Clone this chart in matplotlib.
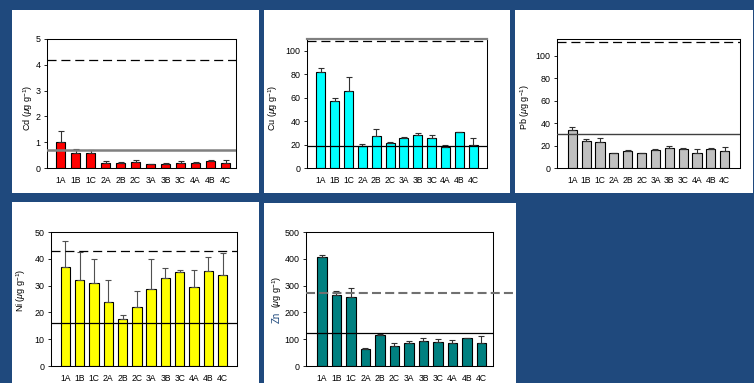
import matplotlib
matplotlib.use('Agg')
import matplotlib.pyplot as plt
from matplotlib.patches import Rectangle

plt.rcParams['font.family'] = ['Liberation Sans', 'DejaVu Sans']
plt.rcParams['mathtext.fontset'] = 'custom'
plt.rcParams['mathtext.rm'] = 'Liberation Sans'
plt.rcParams['mathtext.it'] = 'Liberation Sans:italic'
plt.rcParams['lines.scale_dashes'] = False

sites = ['1A', '1B', '1C', '2A', '2B', '2C', '3A', '3B', '3C', '4A', '4B', '4C']

# mean concentration and mean + SD (upper end of the error bar), µg g-1
cd_mean = [1.02, 0.58, 0.57, 0.18, 0.20, 0.22, 0.14, 0.17, 0.20, 0.19, 0.28, 0.20]
cd_upper = [1.45, 0.75, 0.70, 0.27, 0.23, 0.32, 0.16, 0.19, 0.29, 0.22, 0.31, 0.30]

cu_mean = [81.5, 57.5, 65.5, 19.0, 27.5, 21.0, 25.5, 28.5, 26.0, 18.0, 30.5, 20.0]
cu_upper = [85.5, 59.5, 77.5, 20.5, 33.5, 22.5, 26.5, 30.0, 28.0, 19.5, 31.0, 26.0]

pb_mean = [34.0, 24.5, 23.5, 13.0, 15.5, 13.0, 16.0, 18.0, 17.0, 13.5, 17.0, 15.0]
pb_upper = [36.5, 26.0, 27.0, 13.5, 16.0, 13.5, 16.5, 20.0, 17.5, 16.5, 17.5, 18.5]

ni_mean = [37.0, 32.0, 31.0, 24.0, 17.5, 22.0, 28.8, 32.7, 35.0, 29.3, 35.3, 34.0]
ni_upper = [46.5, 42.5, 40.0, 32.0, 19.0, 28.0, 39.8, 36.5, 35.7, 35.7, 40.8, 42.3]

zn_mean = [407, 265, 257, 63, 115, 75, 86, 95, 90, 85, 103, 85]
zn_upper = [415, 280, 290, 67, 118, 85, 93, 103, 100, 97, 106, 112]

# sediment quality guideline levels (solid = lower, dashed = upper)
cd_guides = (0.68, 4.2)
cu_guides = (18.5, 108)
pb_guides = (30.2, 112)
ni_guides = (16, 42.8)
zn_guides = (124, 271)

W, H = 754, 383
BG = '#1F497D'
fig = plt.figure(figsize=(W / 100, H / 100), dpi=100)
fig.patch.set_facecolor(BG)


def frac(x0, y0, x1, y1):
    return [x0 / W, 1 - y1 / H, (x1 - x0) / W, (y1 - y0) / H]


def white_panel(x0, y0, x1, y1):
    fig.patches.append(Rectangle((x0 / W, 1 - y1 / H), (x1 - x0) / W, (y1 - y0) / H,
                                 transform=fig.transFigure, facecolor='white',
                                 edgecolor='none', zorder=-10))


def bar_panel(box, means, uppers, color, ylim, yticks, xlim, guides,
              solid_style, dashed_style, err_color='#303030', top_spine=None,
              dash_extend=1.0):
    ax = fig.add_axes(frac(*box))
    ax.set_zorder(5)
    x = list(range(len(sites)))
    err = [u - m for m, u in zip(means, uppers)]
    ax.bar(x, means, width=0.66, color=color, edgecolor='black', linewidth=0.8, zorder=2)
    ax.errorbar(x, means, yerr=[[0] * len(x), err], fmt='none', ecolor=err_color,
                elinewidth=0.8, capsize=2.2, capthick=0.8, zorder=3)
    lo, hi = guides
    ax.axhline(lo, zorder=4, **solid_style)
    ax.axhline(hi, xmin=0, xmax=dash_extend, clip_on=False, zorder=4, **dashed_style)
    ax.set_xlim(*xlim)
    ax.set_ylim(*ylim)
    ax.set_yticks(yticks)
    ax.set_xticks(x)
    ax.set_xticklabels(sites)
    ax.tick_params(axis='x', length=0, pad=5.5, labelsize=6.2)
    ax.tick_params(axis='y', length=2.5, width=0.6, pad=2, labelsize=6.4)
    for s in ax.spines.values():
        s.set_linewidth(0.75)
    if top_spine is not None:
        ax.spines['top'].set_color(top_spine)
        ax.spines['top'].set_linewidth(1.6)
    return ax


dash_black = dict(color='black', linewidth=0.9, linestyle=(0, (6.5, 3.5)))
solid_black = dict(color='black', linewidth=0.9)

# Cd
white_panel(12, 10, 259, 193)
bar_panel((47, 39, 236, 168), cd_mean, cd_upper, '#FF0000', (0, 5), range(0, 6),
          (-0.9, 11.7), cd_guides, dict(color='#808080', linewidth=1.8), dash_black)
fig.text(28 / W, 1 - 108 / H, r'Cd ($\mu$g g$^{-1}$)', rotation=90, ha='center',
         va='center', fontsize=6.5)

# Cu
white_panel(264, 10, 510, 193)
bar_panel((307, 39, 487, 168), cu_mean, cu_upper, '#00FFFF', (0, 110), range(0, 101, 20),
          (-1.0, 12.0), cu_guides, solid_black, dash_black, top_spine='#808080')
fig.text(273 / W, 1 - 108 / H, r'Cu ($\mu$g g$^{-1}$)', rotation=90, ha='center',
         va='center', fontsize=6.5)

# Pb
white_panel(515, 10, 753, 193)
bar_panel((557, 39, 740, 168), pb_mean, pb_upper, '#C0C0C0', (0, 115), range(0, 101, 20),
          (-1.1, 12.1), pb_guides, dict(color='#404040', linewidth=1.0), dash_black)
fig.text(525 / W, 1 - 107 / H, r'Pb ($\mu$g g$^{-1}$)', rotation=90, ha='center',
         va='center', fontsize=6.5)

# Ni
white_panel(12, 202, 259, 383)
bar_panel((51, 232, 237, 366), ni_mean, ni_upper, '#FFFF00', (0, 50), range(0, 51, 10),
          (-1.0, 12.0), ni_guides, solid_black, dash_black, err_color='#505050')
fig.text(21 / W, 1 - 290 / H, r'Ni ($\mu$g g$^{-1}$)', rotation=90, ha='center',
         va='center', fontsize=6.5)

# Zn
white_panel(264, 203, 516, 383)
bar_panel((306, 232, 493, 366), zn_mean, zn_upper, '#008080', (0, 500), range(0, 501, 100),
          (-1.1, 11.8), zn_guides, solid_black,
          dict(color='#707070', linewidth=1.5, linestyle=(0, (6.5, 3.0))),
          dash_extend=(514 - 306) / (493 - 306))
fig.text(277 / W, 1 - 317 / H, 'Zn', rotation=90, ha='center', va='center',
         fontsize=7, color='#1F497D')
fig.text(277 / W, 1 - 292 / H, r'($\mu$g g$^{-1}$)', rotation=90, ha='center',
         va='center', fontsize=6.5)

fig.savefig('out.png', dpi=100, facecolor=BG)
